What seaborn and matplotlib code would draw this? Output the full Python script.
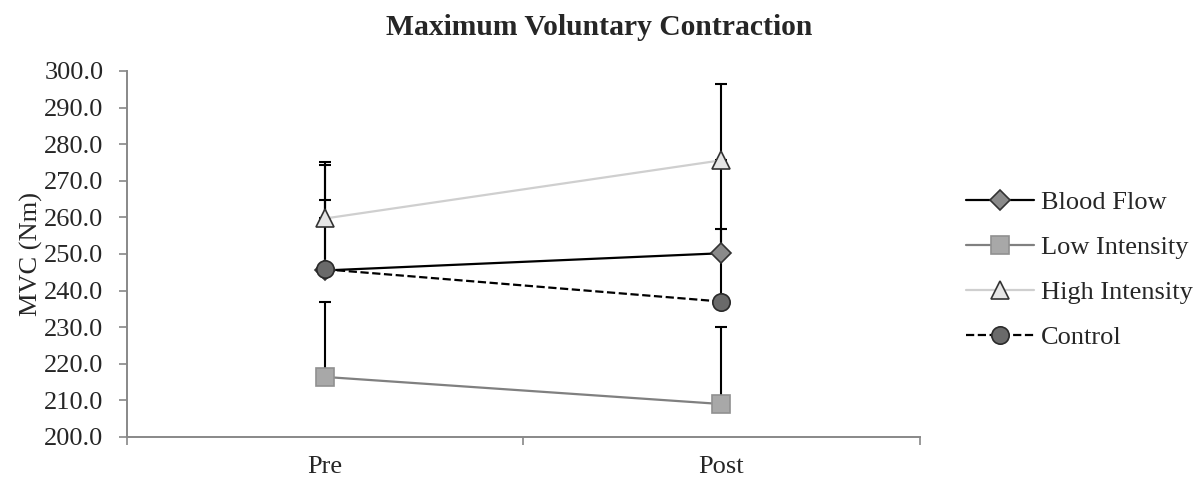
import matplotlib
matplotlib.use("Agg")
import matplotlib.pyplot as plt
import seaborn as sns
import numpy as np
import pandas as pd

# ---- data ----
times = ["Pre", "Post"]
groups = ["Blood Flow", "Low Intensity", "High Intensity", "Control"]
blood_flow = [245.5, 250.2]
low_intensity = [216.4, 209.0]
high_intensity = [259.7, 275.6]
control = [245.8, 237.0]
# upper error (SD) values
blood_flow_err = [19.3, 6.5]
low_intensity_err = [20.6, 21.1]
high_intensity_err = [15.5, 20.8]
control_err = [28.5, 38.0]
yticks = [200, 210, 220, 230, 240, 250, 260, 270, 280, 290, 300]

values = {"Blood Flow": blood_flow, "Low Intensity": low_intensity,
          "High Intensity": high_intensity, "Control": control}
errors = {"Blood Flow": blood_flow_err, "Low Intensity": low_intensity_err,
          "High Intensity": high_intensity_err, "Control": control_err}

rows = []
for g in groups:
    for t, v, e in zip(times, values[g], errors[g]):
        rows.append({"group": g, "time": t, "value": v, "err": e})
df = pd.DataFrame(rows)

sns.set_theme(style="white")
plt.rcParams["font.family"] = ["Liberation Serif", "DejaVu Serif"]

styles = {
    "Blood Flow": dict(color="black", marker="D", mfc="#8a8a8a", mec="#333333", ms=10.5, ls="-"),
    "Low Intensity": dict(color="#808080", marker="s", mfc="#a8a8a8", mec="#909090", ms=12.5, ls="-"),
    "High Intensity": dict(color="#cfcfcf", marker="^", mfc="#e6e6e6", mec="#333333", ms=13, ls="-"),
    "Control": dict(color="black", marker="o", mfc="#6a6a6a", mec="#2a2a2a", ms=12.5, ls="--"),
}

fig = plt.figure(figsize=(11.99, 4.82), dpi=100)
ax = fig.add_axes([0.106, 0.0934, 0.661, 0.7594])

# error bars (upper only)
for g in groups:
    sub = df[df.group == g]
    xs = np.arange(len(times))
    ax.errorbar(xs, sub["value"], yerr=[np.zeros(len(sub)), sub["err"]],
                fmt="none", ecolor="black", elinewidth=1.5, capsize=4.5, capthick=1.5, zorder=2)

for g in groups:
    s = styles[g]
    sns.lineplot(data=df[df.group == g], x="time", y="value", sort=False, ax=ax,
                 color=s["color"], marker=s["marker"], markerfacecolor=s["mfc"],
                 markeredgecolor=s["mec"], markersize=s["ms"], markeredgewidth=1.2,
                 linestyle=s["ls"], linewidth=1.6, label=g, zorder=3)

ax.set_xlim(-0.5, 1.5)
ax.set_ylim(200, 300)
ax.set_yticks(yticks)
ax.set_yticklabels([f"{v:.1f}" for v in yticks])
ax.set_xticks([-0.5, 0.5, 1.5])
ax.set_xticklabels([])
ax.set_xticks([0, 1], minor=True)
ax.set_xticklabels(times, minor=True)
ax.tick_params(axis="x", which="minor", length=0, pad=14, labelsize=19)
ax.tick_params(axis="x", which="major", length=6, width=1.2, color="#888888", direction="out", bottom=True)
ax.tick_params(axis="y", length=6, width=1.2, color="#888888", direction="out", left=True, labelsize=19, pad=11)

for sp in ["top", "right"]:
    ax.spines[sp].set_visible(False)
for sp in ["left", "bottom"]:
    ax.spines[sp].set_color("#888888")
    ax.spines[sp].set_linewidth(1.4)

ax.set_xlabel("")
ax.set_ylabel("MVC (Nm)", fontsize=19, labelpad=1)
fig.text(0.5, 0.942, "Maximum Voluntary Contraction", fontsize=21.3, fontweight="bold",
         ha="center", va="center")

ax.legend(loc="center left", bbox_to_anchor=(1.045, 0.456), frameon=False, fontsize=19,
          handlelength=2.6, labelspacing=0.82, handletextpad=0.25, borderaxespad=0)

fig.savefig("out.png", dpi=100)
